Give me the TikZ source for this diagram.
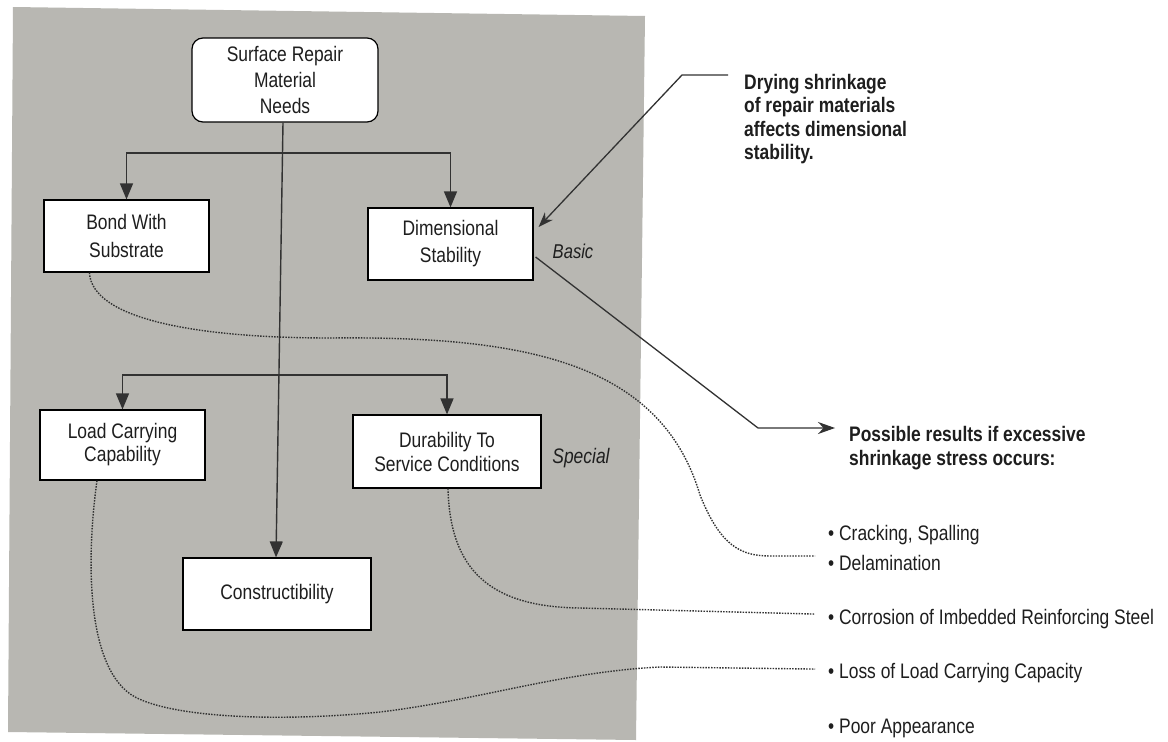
\documentclass[tikz,border=0pt]{standalone}
\usepackage{fontspec}
\setmainfont{Liberation Sans}[FakeStretch=0.83]
\usetikzlibrary{arrows.meta,calc}
\definecolor{panel}{RGB}{184,183,178}
\definecolor{ink}{RGB}{30,30,30}
\definecolor{wire}{RGB}{50,50,50}
\begin{document}
\begin{tikzpicture}[x=1pt,y=-1pt,
  box/.style={draw=black, line width=1.2pt, fill=white, inner sep=0pt, align=center, text=ink},
  conn/.style={draw=wire, line width=1.4pt},
  tip/.style={-{Triangle[length=16pt,width=13pt]}},
  dots/.style={draw=wire, line width=1.4pt, dash pattern=on 1.5pt off 1.3pt},
  note/.style={inner sep=0pt, align=left, text=ink, font=\bfseries\fontsize{21}{23.5}\selectfont},
  bul/.style={anchor=base west, inner sep=0pt, text=ink, font=\fontsize{21}{24}\selectfont},
  lab/.style={text=ink, inner sep=0pt, font=\itshape\fontsize{20}{24}\selectfont}
]
\useasboundingbox (0,0) rectangle (1168,742);
\fill[white] (0,0) rectangle (1168,742);
\fill[panel] (13,7) -- (645,16) -- (636,740) -- (8,732) -- cycle;

% boxes
\node[box, rounded corners=11pt, minimum width=186pt, minimum height=84pt, font=\fontsize{21}{26}\selectfont] (top) at (285,80) {Surface Repair\\Material\\Needs};
\node[box, minimum width=165pt, minimum height=72pt, font=\fontsize{21}{28}\selectfont] (bond) at (126.5,236) {Bond With\\Substrate};
\node[box, minimum width=165pt, minimum height=72pt, font=\fontsize{21}{27}\selectfont] (dim) at (450.5,244) {Dimensional\\Stability};
\node[box, minimum width=165pt, minimum height=70pt, font=\fontsize{21}{23}\selectfont] (load) at (122.5,445) {Load Carrying\\Capability};
\node[box, minimum width=188pt, minimum height=73pt, font=\fontsize{21}{24}\selectfont] (dur) at (447,451.5) {Durability To\\Service Conditions};
\node[box, minimum width=188pt, minimum height=72pt, font=\fontsize{21}{24}\selectfont] (con) at (277,594) {Constructibility};

% side labels
\node[lab] (basic) at (573,251) {Basic};
\node[lab, font=\itshape\fontsize{21}{24}\selectfont] (special) at (581,458) {Special};

% notes
\node[note, anchor=north west] (dry) at (744,74) {Drying shrinkage\\of repair materials\\affects dimensional\\stability.};
\node[note, anchor=north west, font=\bfseries\fontsize{21}{24}\selectfont] (poss) at (849,426) {Possible results if excessive\\shrinkage stress occurs:};

% bullets
\node[bul] (b1) at (828,540) {• Cracking, Spalling};
\node[bul] (b2) at (828,570) {• Delamination};
\node[bul] (b3) at (828,624) {• Corrosion of Imbedded Reinforcing Steel};
\node[bul] (b4) at (828,678) {• Loss of Load Carrying Capacity};
\node[bul] (b5) at (828,733) {• Poor Appearance};

% tree connectors
\coordinate (j1) at (283,153);
\coordinate (j2) at (280,375);
\draw[conn,tip] ([xshift=-2pt]top.south) -- ([xshift=-1pt]con.north);
\draw[conn,tip] (j1) -| (bond.north);
\draw[conn,tip] (j1) -| (dim.north);
\draw[conn,tip] (j2) -| (load.north);
\draw[conn,tip] (j2) -| (dur.north);

% callout arrows
\draw[conn, line width=1.3pt, -{Stealth[length=15pt,width=11pt]}]
  ($(dry.north west)+(-16,1)$) -- ++(-46,0) -- ($(dim.east)+(5,-17)$);
\draw[conn, line width=1.3pt, -{Stealth[length=17pt,width=12pt]}]
  ($(dim.east)+(2,13)$) -- (758,428) -- ($(poss.north west)+(-14,2)$);

% dotted links
\draw[dots] ($(bond.south west)+(46,0)$) .. controls (92,320) and (200,338) .. (330,338)
  .. controls (520,336) and (660,360) .. (700,495)
  .. controls (720,545) and (740,556) .. (770,556) -- ($(b2.west)+(-13,-6.5)$);
\draw[dots] ($(dur.south)+(1,0)$) .. controls (450,570) and (490,607) .. (580,608)
  -- ($(b3.west)+(-13,-4.5)$);
\draw[dots] ($(load.south)+(-25.5,0)$) .. controls (86,560) and (86,670) .. (135,697)
  .. controls (175,718) and (280,722) .. (380,712)
  .. controls (480,700) and (560,672) .. (660,667) -- ($(b4.west)+(-13,-3.5)$);
\end{tikzpicture}
\end{document}
